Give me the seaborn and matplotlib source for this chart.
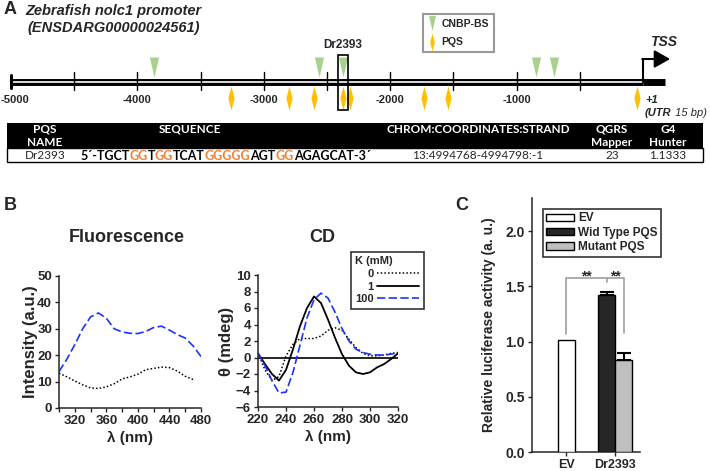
import numpy as np
import pandas as pd
import matplotlib
matplotlib.use('Agg')
import matplotlib.pyplot as plt
import seaborn as sns
from matplotlib.path import Path
from matplotlib.lines import Line2D
from matplotlib.patches import Patch, Rectangle
from matplotlib.offsetbox import TextArea, HPacker, AnchoredOffsetbox

# ---- Panel A: promoter map (bp relative to TSS) ----
prom_ticks = [-4500, -4000, -3500, -3000, -2500, -2000, -1500, -1000, -500]
prom_tick_labels = [-5000, -4000, -3000, -2000, -1000]
cnbp_sites = [-3870, -2565, -2375, -845, -705]
pqs_sites = [-3260, -2800, -2605, -2375, -2320, -1735, -1545, -45]
dr2393_pos = -2375

# ---- Panel A: PQS table ----
tab_headers = ['PQS\nNAME', 'SEQUENCE', 'CHROM:COORDINATES:STRAND', 'QGRS\nMapper', 'G4\nHunter']
tab_values = ['Dr2393', '', '13:4994768-4994798:-1', '23', '1.1333']
seq_parts = ['5´-TGCT', 'GG', 'T', 'GG', 'TCAT', 'GGGGG', 'AGT', 'GG', 'AGAGCAT-3´']
seq_is_g = [False, True, False, True, False, True, False, True, False]

# ---- Panel B: fluorescence ----
fl_wl = [300, 310, 320, 330, 340, 350, 360, 370, 380, 390, 400, 410, 420, 430, 440, 450, 460, 470, 480]
fl_k0 = [13.2, 11.8, 10.2, 8.8, 7.6, 7.4, 8.0, 9.2, 11.0, 11.8, 12.8, 14.5, 15.0, 15.5, 15.3, 14.0, 12.0, 10.8, np.nan]
fl_k100 = [13.8, 18.5, 24.0, 30.0, 34.5, 36.0, 34.0, 30.0, 28.8, 28.3, 28.2, 29.0, 30.5, 31.0, 29.5, 27.8, 26.5, 23.5, 19.5]

# ---- Panel B: CD ----
cd_wl = [220, 225, 230, 235, 240, 245, 250, 255, 260, 265, 270, 275, 280, 285, 290, 295, 300, 305, 310, 315, 320]
cd_k0 = [0.5, -1.5, -2.8, -2.3, 0.2, 1.6, 2.3, 2.3, 2.3, 2.6, 3.3, 3.6, 3.3, 2.2, 1.2, 0.5, 0.2, 0.2, 0.3, 0.5, 0.6]
cd_k1 = [0.5, -0.8, -2.0, -2.8, -1.5, 1.0, 3.8, 6.0, 7.4, 6.6, 4.6, 2.4, 0.4, -1.0, -1.8, -2.0, -1.8, -1.2, -0.8, -0.2, 0.5]
cd_k100 = [0.5, -1.0, -2.8, -4.3, -4.2, -1.8, 1.5, 4.8, 7.0, 7.8, 7.2, 5.5, 3.5, 2.0, 1.0, 0.6, 0.4, 0.3, 0.3, 0.4, 0.6]
k_labels = ['0', '1', '100']

# ---- Panel C: luciferase ----
luc_groups = ['EV', 'Dr2393']
luc_names = ['EV', 'Wid Type PQS', 'Mutant PQS']
luc_group_idx = [0, 1, 1]
luc_values = [1.01, 1.42, 0.83]
luc_err = [0.0, 0.025, 0.07]

sns.set_style('ticks')
plt.rcParams['font.family'] = ['Liberation Sans', 'DejaVu Sans']
plt.rcParams['font.weight'] = 'bold'
plt.rcParams['axes.labelweight'] = 'bold'

W, H = 710, 471
fig = plt.figure(figsize=(W / 100, H / 100), dpi=100)

# background axes in pixel coordinates for free text and the table
bg = fig.add_axes([0, 0, 1, 1])
bg.set_xlim(0, W)
bg.set_ylim(H, 0)
bg.axis('off')

GREEN = '#a9d18e'
GOLD = '#ffc000'
BLUE = '#1a33ff'
TABFONT = ['Lato', 'DejaVu Sans']

tri = Path([(-0.23, 0.5), (0.23, 0.5), (0, -0.5), (-0.23, 0.5)],
           [Path.MOVETO, Path.LINETO, Path.LINETO, Path.CLOSEPOLY])
dia = Path([(0, 0.5), (0.13, 0), (0, -0.5), (-0.13, 0), (0, 0.5)],
           [Path.MOVETO, Path.LINETO, Path.LINETO, Path.LINETO, Path.CLOSEPOLY])

# ---------------- Panel A ----------------
bp_px = 632 / 5000
x0 = -5000 - 11 / bp_px
pa = fig.add_axes([0, 1 - 115 / H, 1, 115 / H])
pa.set_xlim(x0, x0 + W / bp_px)
pa.set_ylim(115, 0)
pa.axis('off')

line_y = 81.5
pa.plot([-5000, 0], [line_y, line_y], color='black', lw=5, solid_capstyle='butt')
pa.plot([-5000, 0], [line_y, line_y], color='white', lw=1.2, solid_capstyle='butt')
pa.plot([0, 175], [line_y, line_y], color='black', lw=5, solid_capstyle='butt')
pa.plot([-5000, -5000], [75, 88], color='black', lw=2.2)
for t in prom_ticks:
    pa.plot([t, t], [72, 90], color='black', lw=1)
for i, t in enumerate(prom_tick_labels):
    if i == 0:
        pa.text(x0 + 0.5 / bp_px, 100, str(t), ha='left', va='center', fontsize=8)
    else:
        pa.text(t, 100, str(t), ha='center', va='center', fontsize=8)

pa.scatter(cnbp_sites, [67] * len(cnbp_sites), marker=tri, s=207, color=GREEN, lw=0, zorder=3)
pa.scatter(pqs_sites, [98] * len(pqs_sites), marker=dia, s=299, color=GOLD, lw=0, zorder=3)

pa.add_patch(Rectangle((dr2393_pos - 40, 55), 80, 55, fill=False, ec='black', lw=1.2, zorder=4))
pa.text(dr2393_pos, 45, 'Dr2393', ha='center', va='center', fontsize=8.5)

# TSS arrow
pa.plot([0, 0], [line_y, 59], color='black', lw=1.5)
pa.annotate('', xy=(215, 59), xytext=(-6, 59),
            arrowprops=dict(arrowstyle='-|>,head_length=0.8,head_width=0.45',
                            mutation_scale=12, color='black', lw=1.5, shrinkA=0, shrinkB=0))
pa.text(55, 42, 'TSS', ha='left', va='center', fontsize=10, style='italic')
pa.text(20, 100, '+1', ha='left', va='center', fontsize=8, style='italic')

utr = HPacker(children=[TextArea('(UTR', textprops=dict(fontsize=8, style='italic', weight='bold')),
                        TextArea(' 15 bp)', textprops=dict(fontsize=8, style='italic', weight='normal'))],
              sep=0, pad=0, align='baseline')
bg.add_artist(AnchoredOffsetbox(loc='center left', child=utr, frameon=False, pad=0, borderpad=0,
                                bbox_to_anchor=(645, 113), bbox_transform=bg.transData))

leg_a = pa.legend(handles=[Line2D([], [], ls='none', marker=tri, markersize=11, mfc=GREEN, mec='none'),
                           Line2D([], [], ls='none', marker=dia, markersize=13, mfc=GOLD, mec='none')],
                  labels=['CNBP-BS', 'PQS'], loc='upper left', bbox_to_anchor=(418 / W, 1 - 9 / H),
                  bbox_transform=fig.transFigure, fontsize=7.5, frameon=True, fancybox=False,
                  edgecolor='#808080', handlelength=0.8, handletextpad=0.5, borderpad=0.45,
                  labelspacing=0.8)
leg_a.get_frame().set_linewidth(1.5)

bg.text(4, 10, 'A', fontsize=13, ha='left', va='center')
bg.text(25, 11, 'Zebrafish nolc1 promoter', fontsize=10.5, style='italic', ha='left', va='center')
bg.text(27, 28, '(ENSDARG00000024561)', fontsize=10.5, style='italic', ha='left', va='center')

# table
col_x = [45, 190, 478, 612, 668]
bg.add_patch(Rectangle((7, 123), 696, 25, color='black', lw=0))
bg.add_patch(Rectangle((7, 148), 696, 14, fc='white', ec='black', lw=1))
for cx, h in zip(col_x, tab_headers):
    bg.text(cx, 124, h, color='white', ha='center', va='top', fontsize=8.5,
            family=TABFONT, linespacing=1.2)
for cx, v in zip(col_x, tab_values):
    if v:
        bg.text(cx, 155.5, v, ha='center', va='center', fontsize=8.5, weight='normal', family=TABFONT)
seq_box = HPacker(children=[TextArea(p, textprops=dict(fontsize=9, weight='bold', family=TABFONT,
                                                        color='#f47f30' if g else 'black'))
                            for p, g in zip(seq_parts, seq_is_g)], sep=0, pad=0, align='baseline')
bg.add_artist(AnchoredOffsetbox(loc='center left', child=seq_box, frameon=False, pad=0, borderpad=0,
                                bbox_to_anchor=(80, 155.5), bbox_transform=bg.transData))

# ---------------- Panel B ----------------
bg.text(4, 205, 'B', fontsize=13, ha='left', va='center')
bg.text(127, 238, 'Fluorescence', fontsize=13, ha='center', va='center')
bg.text(322, 238, 'CD', fontsize=13, ha='center', va='center')

fl = fig.add_axes([59 / W, 1 - 408 / H, 142 / W, 132 / H])
fl_df = pd.DataFrame({'wl': fl_wl, 'k0': fl_k0, 'k100': fl_k100})
sns.lineplot(data=fl_df, x='wl', y='k100', ax=fl, color=BLUE, lw=1.2, linestyle=(0, (5, 2)))
sns.lineplot(data=fl_df, x='wl', y='k0', ax=fl, color='black', lw=1.1, linestyle=(0, (1, 1.4)))
fl.set_xlim(300, 480)
fl.set_ylim(0, 50)
fl.set_xticks([320, 360, 400, 440, 480])
fl.set_xticks([300, 340, 380, 420, 460], minor=True)
fl.set_yticks([0, 10, 20, 30, 40, 50])
fl.set_xlabel('λ (nm)', fontsize=11)
fl.set_ylabel('Intensity (a.u.)', fontsize=12)
fl.xaxis.set_label_coords(0.5, -0.17)
fl.yaxis.set_label_coords(-0.15, 0.5)

cd = fig.add_axes([258 / W, 1 - 407 / H, 140 / W, 132 / H])
cd_df = pd.DataFrame({'wl': cd_wl, 'k0': cd_k0, 'k1': cd_k1, 'k100': cd_k100})
cd.axhline(0, color='black', lw=1.2)
sns.lineplot(data=cd_df, x='wl', y='k0', ax=cd, color='black', lw=1.1, linestyle=(0, (1, 1.4)))
sns.lineplot(data=cd_df, x='wl', y='k1', ax=cd, color='black', lw=1.3, linestyle='-')
sns.lineplot(data=cd_df, x='wl', y='k100', ax=cd, color=BLUE, lw=1.2, linestyle=(0, (5, 2)))
cd.set_xlim(220, 320)
cd.set_ylim(-6, 10)
cd.set_xticks(range(220, 321, 20))
cd.set_yticks(range(-6, 11, 2))
cd.set_xlabel('λ (nm)', fontsize=11)
cd.set_ylabel('θ (mdeg)', fontsize=12)
cd.xaxis.set_label_coords(0.5, -0.17)
cd.yaxis.set_label_coords(-0.17, 0.5)

k_handles = [Line2D([], [], color='black', lw=1.1, ls=(0, (1, 1.4))),
             Line2D([], [], color='black', lw=1.3),
             Line2D([], [], color=BLUE, lw=1.2, ls=(0, (5, 2)))]
leg_cd = cd.legend(k_handles, k_labels, title='K (mM)', markerfirst=False, loc='upper left',
                   bbox_to_anchor=(345 / W, 1 - 246 / H), bbox_transform=fig.transFigure,
                   fontsize=8, title_fontsize=8, alignment='left', frameon=True, fancybox=False,
                   edgecolor='black', handlelength=3.8, handletextpad=0.3, borderpad=0.4,
                   labelspacing=0.25)
leg_cd.get_frame().set_linewidth(1.2)
leg_cd.get_title().set_fontweight('bold')

for ax in (fl, cd):
    sns.despine(ax=ax)
    ax.tick_params(axis='both', which='both', direction='out', length=3, width=1, labelsize=9.5, pad=2)
    for s in ('left', 'bottom'):
        ax.spines[s].set_linewidth(1.1)

# ---------------- Panel C ----------------
bg.text(455, 205, 'C', fontsize=13, ha='left', va='center')
lc = fig.add_axes([532 / W, 1 - 452 / H, 108 / W, 254 / H])
bw = 0.347
offs = [0, -bw / 2, bw / 2]
bar_x = [g + o for g, o in zip(luc_group_idx, offs)]
bar_col = ['white', '#262626', '#bfbfbf']
lc.bar(bar_x, luc_values, width=bw, color=bar_col, edgecolor='black', lw=1, zorder=3)
lc.errorbar(bar_x[1:], luc_values[1:], yerr=[[0, 0], luc_err[1:]], fmt='none', ecolor='black',
            elinewidth=1.5, capsize=5, capthick=1.5, zorder=2)
lc.set_xlim(-0.694, 1.51)
lc.set_ylim(0, 2.3)
lc.set_xticks(range(len(luc_groups)))
lc.set_xticklabels(luc_groups, fontsize=9)
lc.set_yticks([0, 0.5, 1.0, 1.5, 2.0])
lc.set_yticklabels(['0.0', '0.5', '1.0', '1.5', '2.0'], fontsize=10)
lc.set_ylabel('Relative luciferase activity (a. u.)', fontsize=10)
lc.yaxis.set_label_coords(-0.33, 0.5)
sns.despine(ax=lc)
lc.tick_params(axis='both', direction='out', length=3, width=1, pad=2)
for s in ('left', 'bottom'):
    lc.spines[s].set_linewidth(1.1)

GRAY = '#a6a6a6'
br = 1.58
lc.plot([bar_x[0], bar_x[0], bar_x[1]], [1.07, br, br], color=GRAY, lw=1.3)
lc.plot([bar_x[1], bar_x[1]], [br, 1.54], color=GRAY, lw=1.3)
lc.plot([bar_x[1], bar_x[2], bar_x[2]], [br, br, 1.08], color=GRAY, lw=1.3)
lc.text(0.41, 1.55, '**', ha='center', va='baseline', fontsize=10)
lc.text(1.0, 1.55, '**', ha='center', va='baseline', fontsize=10)

leg_c = lc.legend([Patch(fc=c, ec='black', lw=1) for c in bar_col], luc_names, loc='upper left',
                  bbox_to_anchor=(537 / W, 1 - 203 / H), bbox_transform=fig.transFigure,
                  fontsize=8.5, frameon=True, fancybox=False, edgecolor='black', handlelength=2.3,
                  handleheight=0.6, handletextpad=0.4, borderpad=0.3, labelspacing=0.2)
leg_c.get_frame().set_linewidth(1.2)

fig.savefig('out.png', dpi=100)
